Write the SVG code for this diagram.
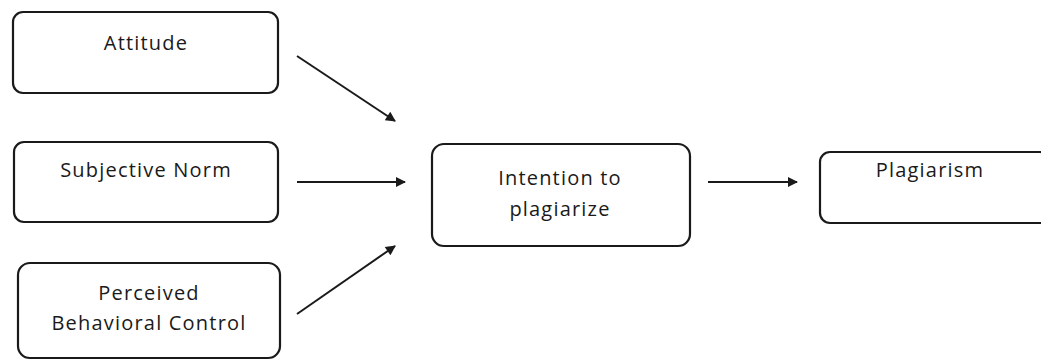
<svg xmlns="http://www.w3.org/2000/svg" width="1041" height="360" viewBox="0 0 1041 360">
<style>
.box{fill:#fff;stroke:#1a1a1a;stroke-width:2.2}
.t{font-family:"Open Sans","Liberation Sans",sans-serif;font-size:20px;letter-spacing:1.2px;fill:#1a1a1a;text-anchor:middle}
.c{stroke:#1a1a1a;stroke-width:2;fill:none;marker-end:url(#ah)}
</style>
<defs>
<marker id="ah" viewBox="0 0 10 10" refX="9" refY="5" markerWidth="12" markerHeight="10" markerUnits="userSpaceOnUse" orient="auto">
<path d="M0,0 L10,5 L0,10 z" fill="#1a1a1a"/>
</marker>
</defs>
<rect width="1041" height="360" fill="#fff"/>
<g id="attitude"><rect class="box" x="13" y="12" width="265" height="81" rx="10"/><text class="t" x="146" y="50">Attitude</text></g>
<g id="subjective-norm"><rect class="box" x="14" y="142" width="264" height="80" rx="10"/><text class="t" x="146" y="177">Subjective Norm</text></g>
<g id="pbc"><rect class="box" x="18" y="263" width="262" height="95" rx="12"/><text class="t" x="149" y="300">Perceived</text><text class="t" x="149" y="330">Behavioral Control</text></g>
<g id="intention"><rect class="box" x="432" y="144" width="258" height="102" rx="12"/><text class="t" x="560" y="185">Intention to</text><text class="t" x="560" y="216">plagiarize</text></g>
<g id="plagiarism"><rect class="box" x="820" y="152" width="230" height="71" rx="10"/><text class="t" x="930" y="177">Plagiarism</text></g>
<g id="connectors">
<line class="c" x1="297" y1="56" x2="395" y2="121"/>
<line class="c" x1="297" y1="182" x2="405" y2="182"/>
<line class="c" x1="297" y1="314" x2="395" y2="246"/>
<line class="c" x1="708" y1="182" x2="797" y2="182"/>
</g>
</svg>
